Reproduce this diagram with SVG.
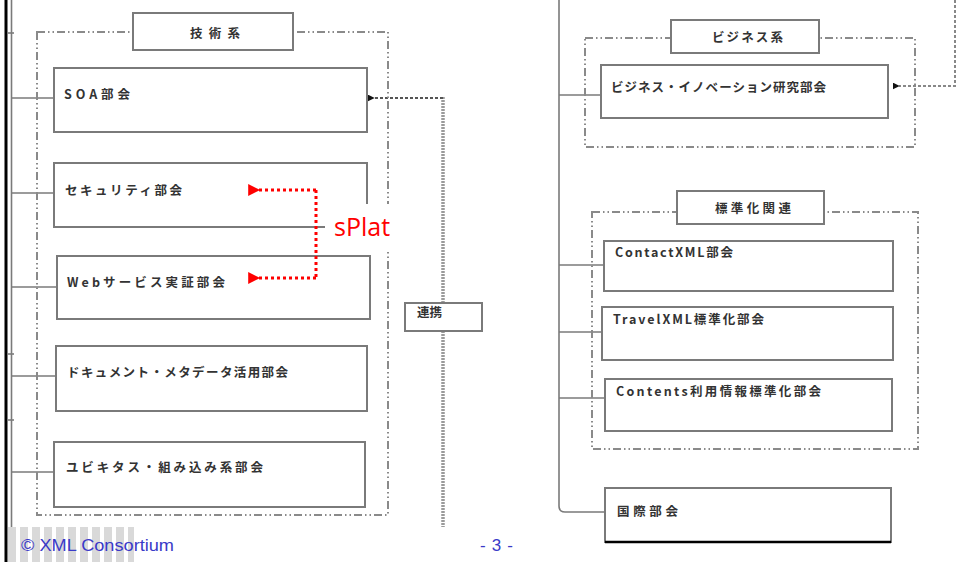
<svg xmlns="http://www.w3.org/2000/svg" width="957" height="562" viewBox="0 0 957 562">
<style>
.bx{fill:#fff;stroke:#7a7a7a;stroke-width:2}
.grp{fill:none;stroke:#8a8a8a;stroke-width:2;stroke-dasharray:8 3 1.5 3 1.5 3}
.ln{fill:none;stroke:#7a7a7a;stroke-width:1.6}
.t{font-family:"Noto Sans CJK JP","Noto Sans",sans-serif;font-size:12.5px;font-weight:bold;fill:#333}
.dot{fill:none;stroke:#9a9a9a;stroke-width:3.5;stroke-dasharray:2 1}
.red{fill:none;stroke:#ff0000;stroke-width:3;stroke-dasharray:3 3}
.ft{font-family:"Liberation Sans","DejaVu Sans",sans-serif;font-size:17px;fill:#3a3ac8}
</style>
<defs>
<marker id="ab" viewBox="0 0 10 10" refX="1" refY="5" markerWidth="7" markerHeight="7" markerUnits="userSpaceOnUse" orient="auto-start-reverse"><path d="M0,5 L10,0 L10,10 Z" fill="#111"/></marker>
<marker id="ar" viewBox="0 0 10 10" refX="1" refY="5" markerWidth="13" markerHeight="12" markerUnits="userSpaceOnUse" orient="auto-start-reverse"><path d="M0,5 L10,0 L10,10 Z" fill="#ff0000"/></marker>
<pattern id="stripes" x="8" y="0" width="12" height="10" patternUnits="userSpaceOnUse"><rect x="0" y="0" width="12" height="10" fill="#fff"/><rect x="0" y="0" width="8" height="10" fill="#d9d9d9"/></pattern>
</defs>
<rect width="957" height="562" fill="#fff"/>

<g id="connectors">
<line x1="6" y1="0" x2="6" y2="562" stroke="#000" stroke-width="3"/>
<line x1="11.5" y1="0" x2="11.5" y2="527" class="ln"/>
<line x1="8" y1="33" x2="14" y2="33" class="ln"/>
<line x1="8" y1="354" x2="14" y2="354" class="ln"/>
<line x1="8" y1="420" x2="14" y2="420" class="ln"/>
<line x1="11.5" y1="98" x2="54" y2="98" class="ln"/>
<line x1="11.5" y1="193" x2="54" y2="193" class="ln"/>
<line x1="11.5" y1="287" x2="57" y2="287" class="ln"/>
<line x1="11.5" y1="376" x2="56" y2="376" class="ln"/>
<line x1="11.5" y1="472" x2="54" y2="472" class="ln"/>
<line x1="443" y1="97" x2="443" y2="527" class="dot"/>
<line x1="443" y1="98" x2="374" y2="98" stroke="#555" stroke-width="2" stroke-dasharray="3 2" marker-end="url(#ab)"/>
<polyline points="955,0 955,86 899,86" fill="none" stroke="#888" stroke-width="2" stroke-dasharray="3 2" marker-end="url(#ab)"/>
<path d="M559,0 V506 Q559,512 565,512 H605" class="ln" stroke-width="2.2"/>
<line x1="559" y1="95" x2="601" y2="95" class="ln"/>
<line x1="559" y1="265" x2="604" y2="265" class="ln"/>
<line x1="559" y1="332" x2="602" y2="332" class="ln"/>
<line x1="559" y1="398" x2="605" y2="398" class="ln"/>
</g>

<g id="grp-gijutsu">
<rect x="37" y="32" width="351" height="483" class="grp"/>
<rect x="133" y="13" width="160" height="37" class="bx"/>
<text class="t" x="190" y="38" textLength="50" lengthAdjust="spacing">技術系</text>
</g>
<g id="soa"><rect x="54" y="68" width="313" height="64" class="bx"/><text class="t" x="64" y="99" textLength="66" lengthAdjust="spacing">SOA部会</text></g>
<g id="security"><rect x="54" y="163" width="313" height="64" class="bx"/><text class="t" x="65" y="195" textLength="117" lengthAdjust="spacing">セキュリティ部会</text></g>
<g id="web"><rect x="57" y="256" width="313" height="63" class="bx"/><text class="t" x="67" y="287" textLength="158" lengthAdjust="spacing">Webサービス実証部会</text></g>
<g id="document"><rect x="56" y="346" width="311" height="65" class="bx"/><text class="t" x="67" y="377" textLength="221" lengthAdjust="spacing">ドキュメント・メタデータ活用部会</text></g>
<g id="ubiquitous"><rect x="54" y="442" width="311" height="65" class="bx"/><text class="t" x="66" y="472" textLength="197" lengthAdjust="spacing">ユビキタス・組み込み系部会</text></g>
<g id="renkei"><rect x="405" y="303" width="77" height="28" class="bx"/><text class="t" x="417" y="317" textLength="25" lengthAdjust="spacing">連携</text></g>

<g id="grp-business">
<rect x="585" y="38" width="330" height="109" class="grp"/>
<rect x="671" y="20" width="148" height="33" class="bx"/>
<text class="t" x="712" y="42" textLength="71" lengthAdjust="spacing">ビジネス系</text>
</g>
<g id="innovation"><rect x="601" y="65" width="287" height="53" class="bx"/><text class="t" x="611" y="92" textLength="215" lengthAdjust="spacing">ビジネス・イノベーション研究部会</text></g>

<g id="grp-standard">
<rect x="592" y="212" width="326" height="237" class="grp"/>
<rect x="677" y="191" width="147" height="33" class="bx"/>
<text class="t" x="715" y="213" textLength="76" lengthAdjust="spacing">標準化関連</text>
</g>
<g id="contactxml"><rect x="604" y="241" width="289" height="50" class="bx"/><text class="t" x="615" y="257" textLength="118" lengthAdjust="spacing">ContactXML部会</text></g>
<g id="travelxml"><rect x="602" y="307" width="291" height="53" class="bx"/><text class="t" x="613" y="324" textLength="151" lengthAdjust="spacing">TravelXML標準化部会</text></g>
<g id="contents"><rect x="605" y="379" width="287" height="52" class="bx"/><text class="t" x="616" y="396" textLength="205" lengthAdjust="spacing">Contents利用情報標準化部会</text></g>
<g id="kokusai"><rect x="605" y="488" width="286" height="54" class="bx"/><line x1="605" y1="542" x2="891" y2="542" stroke="#000" stroke-width="2.5"/><text class="t" x="617" y="516" textLength="61" lengthAdjust="spacing">国際部会</text></g>

<g id="splat">
<rect x="325" y="204" width="80" height="46" fill="#fff"/>
<polyline points="316,190 316,278" class="red"/>
<line x1="316" y1="190" x2="259" y2="190" class="red" marker-end="url(#ar)"/>
<line x1="316" y1="278" x2="259" y2="278" class="red" marker-end="url(#ar)"/>
<text x="334" y="236" font-family="'Open Sans','Noto Sans',sans-serif" font-size="25" fill="#ff0000">sPlat</text>
</g>

<g id="footer">
<rect x="8" y="527" width="126" height="35" fill="url(#stripes)"/>
<text class="ft" x="21" y="551" textLength="153" lengthAdjust="spacingAndGlyphs">© XML Consortium</text>
<text class="ft" x="480" y="551" textLength="33" lengthAdjust="spacing">- 3 -</text>
</g>
</svg>
